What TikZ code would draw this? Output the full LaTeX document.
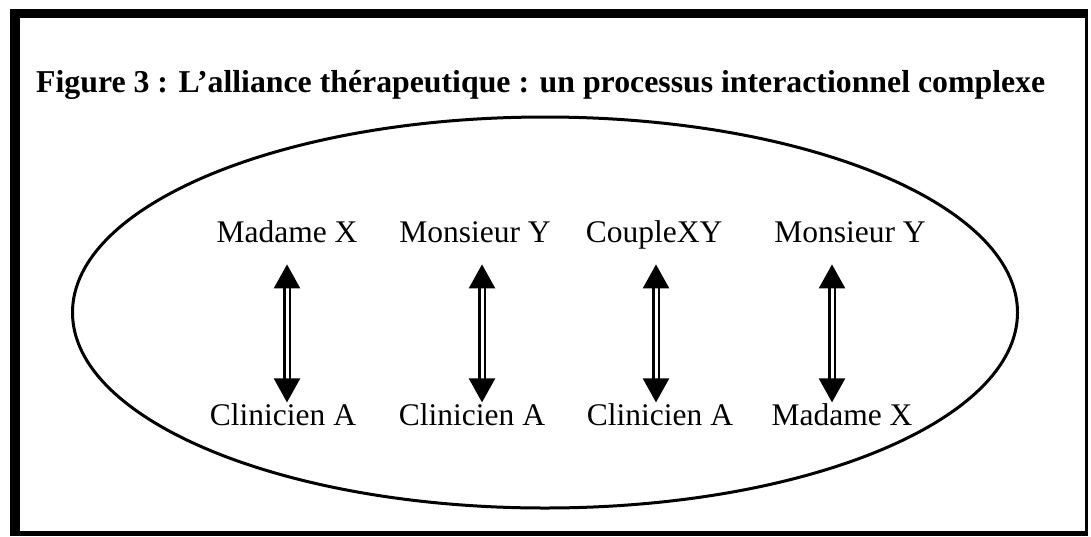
\documentclass[tikz,border=0pt]{standalone}
\usepackage{fontspec}
\setmainfont{Liberation Serif}
\usetikzlibrary{arrows.meta}
\begin{document}
\begin{tikzpicture}[x=1pt,y=-1pt,
  lbl/.style={font=\fontsize{31.5}{36}\selectfont, inner sep=0pt, text height=0.68em, text depth=0.22em},
  frameline/.style={fill=black},
  conn/.style={draw=black, line width=2.4pt, double=white, double distance=3pt,
    {Triangle[width=26pt,length=24pt]}-{Triangle[width=26pt,length=24pt]}}
]
\useasboundingbox (0,0) rectangle (1091,536);
% frame
\fill[frameline] (10,9) rectangle (20,536);
\fill[frameline] (10,9) rectangle (1088,18);
\fill[frameline] (1085,9) rectangle (1088,536);
\fill[frameline] (10,531) rectangle (1088,536);
% title
\node[anchor=base west, inner sep=0pt, font=\bfseries\fontsize{31.8}{36}\selectfont] (title) at (36,92)
  {Figure 3 : L’alliance thérapeutique : un processus interactionnel complexe};
% ellipse
\draw[line width=3pt] (545,312.5) ellipse [x radius=472.5, y radius=195.5];
% labels
\node[lbl, anchor=base] (t1) at (287,242) {Madame X};
\node[lbl, anchor=base] (t2) at (475,242) {Monsieur Y};
\node[lbl, anchor=base] (t3) at (654,242) {CoupleXY};
\node[lbl, anchor=base] (t4) at (850,242) {Monsieur Y};
\node[lbl, anchor=base] (b1) at (283,425) {Clinicien A};
\node[lbl, anchor=base] (b2) at (472,425) {Clinicien A};
\node[lbl, anchor=base] (b3) at (660,425) {Clinicien A};
\node[lbl, anchor=base] (b4) at (842,425) {Madame X};
% arrow axes
\coordinate (a1) at (287,0);
\coordinate (a2) at (482,0);
\coordinate (a3) at (656,0);
\coordinate (a4) at (832,0);
\foreach \i in {1,2,3,4}{
  \draw[conn, shorten <=20pt, shorten >=15.6pt] (t\i.south -| a\i) -- (b\i.north -| a\i);
}
\end{tikzpicture}
\end{document}
